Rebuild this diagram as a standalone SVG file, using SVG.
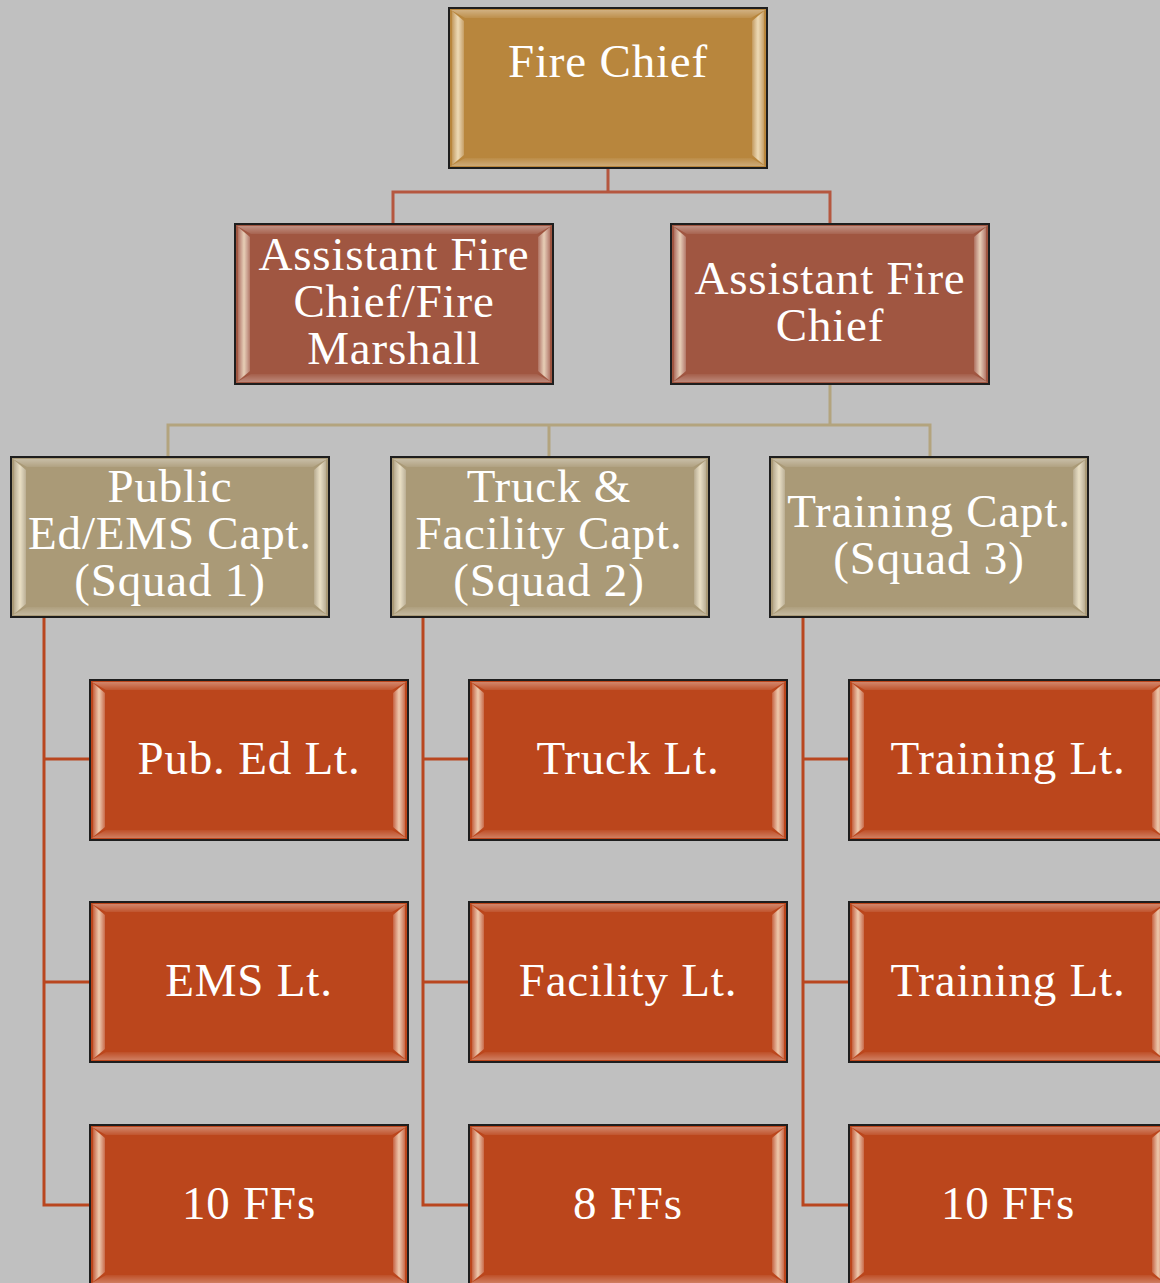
<svg xmlns="http://www.w3.org/2000/svg" xmlns:xlink="http://www.w3.org/1999/xlink" width="1160" height="1283" viewBox="0 0 1160 1283">
<style>
.box{stroke:#1e1e1e;stroke-width:2}
.gold{fill:#b8863d}
.rust{fill:#a05641}
.tan{fill:#aa9a77}
.lt{fill:#bb461c}
.t{font-family:"Liberation Serif","Times New Roman",serif;font-size:47px;letter-spacing:0.8px;fill:#ffffff;text-anchor:middle}
.c1{fill:none;stroke:#b5573f;stroke-width:3}
.c2{fill:none;stroke:#b3a47e;stroke-width:3}
.c3{fill:none;stroke:#b9461f;stroke-width:3}
</style>
<defs>
<linearGradient id="side" x1="0" y1="0" x2="1" y2="0">
<stop offset="0" stop-color="#ffffff" stop-opacity="0.15"/>
<stop offset="0.5" stop-color="#fff6dc" stop-opacity="0.75"/>
<stop offset="1" stop-color="#ffffff" stop-opacity="0.2"/>
</linearGradient>
<linearGradient id="topb" x1="0" y1="0" x2="0" y2="1">
<stop offset="0" stop-color="#ffffff" stop-opacity="0.35"/>
<stop offset="1" stop-color="#ffffff" stop-opacity="0.08"/>
</linearGradient>
<linearGradient id="botb" x1="0" y1="0" x2="0" y2="1">
<stop offset="0" stop-color="#ffffff" stop-opacity="0.05"/>
<stop offset="1" stop-color="#ffffff" stop-opacity="0.3"/>
</linearGradient>
<g id="bevel">
<polygon points="2,2 316,2 302,10 16,10" fill="url(#topb)"/>
<polygon points="2,158 316,158 302,150 16,150" fill="url(#botb)"/>
<polygon points="3,3 15,13 15,147 3,157" fill="url(#side)"/>
<polygon points="315,3 303,13 303,147 315,157" fill="url(#side)"/>
</g>
</defs>
<rect width="1160" height="1283" fill="#c0c0c0"/>
<g id="connectors">
<polyline class="c1" points="608,168 608,192"/>
<polyline class="c1" points="393,224 393,192 830,192 830,224"/>
<polyline class="c2" points="830,385 830,425"/>
<polyline class="c2" points="168,457 168,425 930,425 930,457"/>
<polyline class="c2" points="549,425 549,457"/>
<polyline class="c3" points="44,617 44,1205 90,1205"/>
<polyline class="c3" points="44,759 90,759"/>
<polyline class="c3" points="44,982 90,982"/>
<polyline class="c3" points="423,617 423,1205 469,1205"/>
<polyline class="c3" points="423,759 469,759"/>
<polyline class="c3" points="423,982 469,982"/>
<polyline class="c3" points="803,617 803,1205 849,1205"/>
<polyline class="c3" points="803,759 849,759"/>
<polyline class="c3" points="803,982 849,982"/>
</g>
<g id="fire-chief">
<rect class="box gold" x="449" y="8" width="318" height="160"/>
<use xlink:href="#bevel" x="449" y="8"/>
<text class="t" x="608" y="77">Fire Chief</text>
</g>
<g id="asst-chief-marshall">
<rect class="box rust" x="235" y="224" width="318" height="160"/>
<use xlink:href="#bevel" x="235" y="224"/>
<text class="t" x="394" y="270">Assistant Fire</text>
<text class="t" x="394" y="317">Chief/Fire</text>
<text class="t" x="394" y="364">Marshall</text>
</g>
<g id="asst-chief">
<rect class="box rust" x="671" y="224" width="318" height="160"/>
<use xlink:href="#bevel" x="671" y="224"/>
<text class="t" x="830" y="294">Assistant Fire</text>
<text class="t" x="830" y="341">Chief</text>
</g>
<g id="capt-1">
<rect class="box tan" x="11" y="457" width="318" height="160"/>
<use xlink:href="#bevel" x="11" y="457"/>
<text class="t" x="170" y="502">Public</text>
<text class="t" x="170" y="549">Ed/EMS Capt.</text>
<text class="t" x="170" y="596">(Squad 1)</text>
</g>
<g id="capt-2">
<rect class="box tan" x="391" y="457" width="318" height="160"/>
<use xlink:href="#bevel" x="391" y="457"/>
<text class="t" x="549" y="502">Truck &amp;</text>
<text class="t" x="549" y="549">Facility Capt.</text>
<text class="t" x="549" y="596">(Squad 2)</text>
</g>
<g id="capt-3">
<rect class="box tan" x="770" y="457" width="318" height="160"/>
<use xlink:href="#bevel" x="770" y="457"/>
<text class="t" x="929" y="527">Training Capt.</text>
<text class="t" x="929" y="574">(Squad 3)</text>
</g>
<g id="pub-ed-lt">
<rect class="box lt" x="90" y="680" width="318" height="160"/>
<use xlink:href="#bevel" x="90" y="680"/>
<text class="t" x="249" y="774">Pub. Ed Lt.</text>
</g>
<g id="ems-lt">
<rect class="box lt" x="90" y="902" width="318" height="160"/>
<use xlink:href="#bevel" x="90" y="902"/>
<text class="t" x="249" y="996">EMS Lt.</text>
</g>
<g id="ffs-1">
<rect class="box lt" x="90" y="1125" width="318" height="160"/>
<use xlink:href="#bevel" x="90" y="1125"/>
<text class="t" x="249" y="1219">10 FFs</text>
</g>
<g id="truck-lt">
<rect class="box lt" x="469" y="680" width="318" height="160"/>
<use xlink:href="#bevel" x="469" y="680"/>
<text class="t" x="628" y="774">Truck Lt.</text>
</g>
<g id="facility-lt">
<rect class="box lt" x="469" y="902" width="318" height="160"/>
<use xlink:href="#bevel" x="469" y="902"/>
<text class="t" x="628" y="996">Facility Lt.</text>
</g>
<g id="ffs-2">
<rect class="box lt" x="469" y="1125" width="318" height="160"/>
<use xlink:href="#bevel" x="469" y="1125"/>
<text class="t" x="628" y="1219">8 FFs</text>
</g>
<g id="training-lt-1">
<rect class="box lt" x="849" y="680" width="318" height="160"/>
<use xlink:href="#bevel" x="849" y="680"/>
<text class="t" x="1008" y="774">Training Lt.</text>
</g>
<g id="training-lt-2">
<rect class="box lt" x="849" y="902" width="318" height="160"/>
<use xlink:href="#bevel" x="849" y="902"/>
<text class="t" x="1008" y="996">Training Lt.</text>
</g>
<g id="ffs-3">
<rect class="box lt" x="849" y="1125" width="318" height="160"/>
<use xlink:href="#bevel" x="849" y="1125"/>
<text class="t" x="1008" y="1219">10 FFs</text>
</g>
</svg>
